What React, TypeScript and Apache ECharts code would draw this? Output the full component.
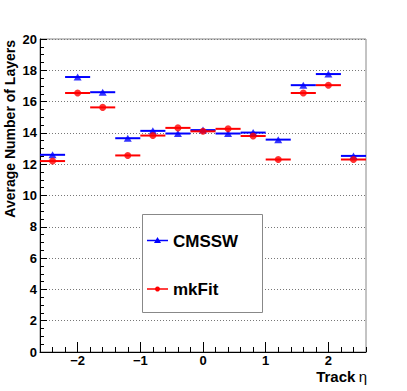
import React, { useEffect, useRef } from "react";
import * as echarts from "echarts";

const etaCenters = [-2.4, -2.0, -1.6, -1.2, -0.8, -0.4, 0, 0.4, 0.8, 1.2, 1.6, 2.0, 2.4];
const binHalfWidth = 0.2;
const cmsswValues = [12.6, 17.57, 16.6, 13.66, 14.13, 13.96, 14.18, 13.96, 14.02, 13.57, 17.05, 17.76, 12.53];
const mkfitValues = [12.2, 16.55, 15.63, 12.56, 13.83, 14.32, 14.1, 14.26, 13.8, 12.3, 16.55, 17.05, 12.3];
const xMajorTicks = [-2, -1, 0, 1, 2];
const seriesNames = ["CMSSW", "mkFit"];
const yTitle = "Average Number of Layers";
const xTitle = "Track";

const FONT = "'Liberation Sans', Arial, Helvetica, sans-serif";

function binLines(values: number[], color: string, name: string) {
  return {
    type: "custom",
    name,
    xAxisIndex: 0,
    yAxisIndex: 0,
    data: etaCenters.map((x, i) => [x, values[i]]),
    renderItem: (_p: any, api: any) => {
      const x = api.value(0);
      const y = api.value(1);
      const a = api.coord([x - binHalfWidth, y]);
      const b = api.coord([x + binHalfWidth, y]);
      return {
        type: "line",
        shape: { x1: a[0], y1: a[1], x2: b[0], y2: b[1] },
        style: { stroke: color, lineWidth: 2 },
      };
    },
    z: 3,
  };
}

export default function App() {
  const ref = useRef<HTMLDivElement>(null);
  useEffect(() => {
    if (!ref.current) return;
    const chart = echarts.init(ref.current, null, { renderer: "svg" });
    const gridLeft = 40, gridTop = 39, gridRight = 41, gridBottom = 39;
    chart.setOption({
      animation: false,
      backgroundColor: "#ffffff",
      grid: {
        left: gridLeft,
        top: gridTop,
        right: gridRight,
        bottom: gridBottom,
        show: true,
        borderColor: "#888888",
        borderWidth: 1,
        backgroundColor: "transparent",
      },
      xAxis: [
        {
          type: "value",
          min: -2.6,
          max: 2.6,
          interval: 0.2,
          position: "bottom",
          axisLine: { show: true, onZero: false, lineStyle: { color: "#000", width: 1 } },
          axisTick: { show: true, inside: true, length: 5, lineStyle: { color: "#000" } },
          axisLabel: { show: false },
          splitLine: { show: false },
        },
        {
          type: "value",
          min: -2.6,
          max: 2.6,
          position: "bottom",
          axisLine: { show: false, onZero: false },
          axisTick: {
            show: true,
            inside: true,
            length: 10,
            customValues: xMajorTicks,
            lineStyle: { color: "#000" },
          },
          axisLabel: {
            show: true,
            customValues: xMajorTicks,
            margin: 3,
            fontFamily: FONT,
            fontWeight: "bold",
            fontSize: 13,
            lineHeight: 11,
            color: "#000",
            formatter: (v: number) => (v < 0 ? "\u2212" + Math.abs(v) : String(v)),
          },
          splitLine: { show: false },
        },
      ],
      yAxis: {
        type: "value",
        min: 0,
        max: 20,
        interval: 2,
        position: "left",
        axisLine: { show: true, onZero: false, lineStyle: { color: "#000", width: 1 } },
        axisTick: { show: true, inside: true, length: 7, lineStyle: { color: "#000" } },
        minorTick: { show: true, splitNumber: 4, length: 4, lineStyle: { color: "#000" } },
        axisLabel: {
          margin: 3,
          fontFamily: FONT,
          fontWeight: "bold",
          fontSize: 13,
          color: "#000",
        },
        splitLine: { show: true, lineStyle: { color: "#777", width: 1, type: [1, 2] } },
      },
      series: [
        binLines(cmsswValues, "#0000ff", seriesNames[0] + " bins"),
        {
          type: "scatter",
          name: seriesNames[0],
          symbol: "triangle",
          symbolSize: [8, 7],
          itemStyle: { color: "#0000ff" },
          data: etaCenters.map((x, i) => [x, cmsswValues[i]]),
          z: 4,
        },
        binLines(mkfitValues, "#ff0000", seriesNames[1] + " bins"),
        {
          type: "scatter",
          name: seriesNames[1],
          symbol: "circle",
          symbolSize: 7,
          itemStyle: { color: "#ff0000" },
          data: etaCenters.map((x, i) => [x, mkfitValues[i]]),
          z: 4,
        },
      ],
      graphic: [
        {
          type: "text",
          x: 10,
          y: 40,
          rotation: Math.PI / 2,
          style: {
            text: yTitle,
            fontFamily: FONT,
            fontWeight: "bold",
            fontSize: 14,
            fill: "#000",
            align: "right",
            verticalAlign: "middle",
          },
        },
        {
          type: "text",
          x: 367,
          y: 376,
          style: {
            text: "{b|" + xTitle + "} {g|\u03b7}",
            align: "right",
            verticalAlign: "middle",
            rich: {
              b: { fontFamily: FONT, fontWeight: "bold", fontSize: 15, lineHeight: 12, fill: "#000" },
              g: { fontFamily: FONT, fontWeight: "normal", fontSize: 15, lineHeight: 12, fill: "#000" },
            },
          },
        },
        {
          type: "rect",
          shape: { x: 142.5, y: 214.5, width: 120, height: 98 },
          style: { fill: "#fff", stroke: "#888", lineWidth: 1 },
          z: 10,
        },
        {
          type: "line",
          shape: { x1: 147, y1: 240.5, x2: 168, y2: 240.5 },
          style: { stroke: "#0000ff", lineWidth: 1.5 },
          z: 11,
        },
        {
          type: "polygon",
          shape: { points: [[157.5, 237], [161, 243], [154, 243]] },
          style: { fill: "#0000ff" },
          z: 11,
        },
        {
          type: "text",
          x: 173,
          y: 241,
          style: {
            text: seriesNames[0],
            fontFamily: FONT,
            fontWeight: "bold",
            fontSize: 17,
            fill: "#000",
            verticalAlign: "middle",
          },
          z: 11,
        },
        {
          type: "line",
          shape: { x1: 147, y1: 289, x2: 168, y2: 289 },
          style: { stroke: "#ff0000", lineWidth: 1.5 },
          z: 11,
        },
        {
          type: "circle",
          shape: { cx: 157.5, cy: 289, r: 2.5 },
          style: { fill: "#ff0000" },
          z: 11,
        },
        {
          type: "text",
          x: 173,
          y: 289.5,
          style: {
            text: seriesNames[1],
            fontFamily: FONT,
            fontWeight: "bold",
            fontSize: 17,
            fill: "#000",
            verticalAlign: "middle",
          },
          z: 11,
        },
      ],
    });
    return () => chart.dispose();
  }, []);
  return (
    <div
      ref={ref}
      style={{ position: "fixed", left: 0, top: 0, width: 407, height: 391, background: "#fff" }}
    />
  );
}
